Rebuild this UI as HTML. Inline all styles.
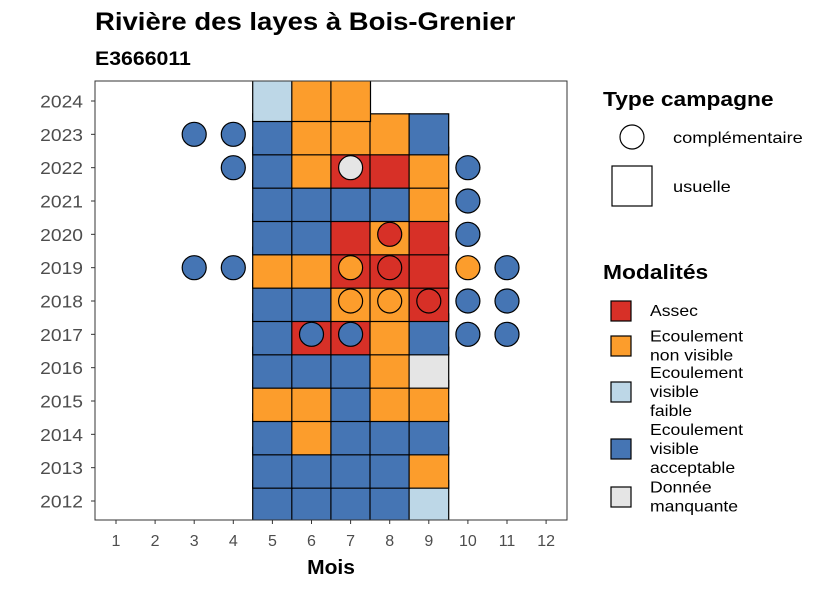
<!DOCTYPE html>
<html><head><meta charset="utf-8"><style>
body{margin:0;background:#fff;font-family:"Liberation Sans",sans-serif}
svg text{font-family:"Liberation Sans",sans-serif}
</style></head><body>
<svg width="826" height="590" xmlns="http://www.w3.org/2000/svg" id="chart">
<text x="95" y="30" font-size="25" font-weight="bold" data-sx="1.1">Rivière des layes à Bois-Grenier</text>
<text x="95" y="65" font-size="19" font-weight="bold" data-sx="1.12">E3666011</text>
<defs><clipPath id="pc"><rect x="95" y="81" width="472" height="439"/></clipPath></defs>
<g id="tiles" clip-path="url(#pc)"></g>
<g id="dots"></g>
<rect x="95" y="81" width="472" height="439" fill="none" stroke="#333" stroke-width="1"/>
<g id="axes"></g>
<text x="331" y="574" font-size="20" font-weight="bold" text-anchor="middle" data-sx="1.05">Mois</text>
<g>
<text x="603" y="106" font-size="20" font-weight="bold" data-sx="1.14">Type campagne</text>
<circle cx="632" cy="137" r="12" fill="#fff" stroke="#000" stroke-width="1.2"/>
<text x="673" y="143" font-size="16" data-sx="1.14">complémentaire</text>
<rect x="612" y="166" width="40" height="40" fill="#fff" stroke="#000" stroke-width="1.2"/>
<text x="673" y="192" font-size="16" data-sx="1.14">usuelle</text>
</g>
<g id="legmod">
<text x="603" y="279" font-size="20" font-weight="bold" data-sx="1.14">Modalités</text>
</g>
<script>
const months=[1,2,3,4,5,6,7,8,9,10,11,12];
const years=[2012,2013,2014,2015,2016,2017,2018,2019,2020,2021,2022,2023,2024];
const colors={A:"#D73027",E:"#FC9D2C",F:"#BDD7E7",V:"#4575B4",M:"#E5E5E5"};
const tileYears=[2012,2013,2014,2015,2016,2017,2018,2019,2020,2021,2022,2023,2024];
const tileVals=["VVVVF","VVVVE","VEVVV","EEVEE","VVVEM","VAAEV","VVEEA","EEAAA","VVAEA","VVVVE","VEAAE","VEEEV","FEE"];
const dotYears=[2023,2023,2022,2022,2022,2021,2020,2020,2019,2019,2019,2019,2019,2019,2018,2018,2018,2018,2018,2017,2017,2017,2017];
const dotMonths=[3,4,4,7,10,10,8,10,3,4,7,8,10,11,7,8,9,10,11,6,7,10,11];
const dotVals=["V","V","V","M","V","V","A","V","V","V","E","A","E","V","E","E","A","V","V","V","V","V","V"];
const X=m=>116+(m-1)*39.1, Y=y=>501-(y-2012)*(400/12);
const NS="http://www.w3.org/2000/svg";
const tg=document.getElementById('tiles'),dg=document.getElementById('dots'),ag=document.getElementById('axes');
tileYears.forEach((yr,i)=>{[...tileVals[i]].forEach((c,j)=>{
 const r=document.createElementNS(NS,'rect');
 r.setAttribute('x',X(5+j)-19.7);r.setAttribute('y',Y(yr)-20.5);r.setAttribute('width',39.6);r.setAttribute('height',41);
 r.setAttribute('fill',colors[c]);r.setAttribute('stroke','#000');r.setAttribute('stroke-width','1.2');
 
 
 tg.appendChild(r);});});
dotYears.forEach((yr,i)=>{
 const c=document.createElementNS(NS,'circle');
 c.setAttribute('cx',X(dotMonths[i]));c.setAttribute('cy',Y(yr));c.setAttribute('r',12);
 c.setAttribute('fill',colors[dotVals[i]]);c.setAttribute('stroke','#000');c.setAttribute('stroke-width','1.2');
 
 
 dg.appendChild(c);});
months.forEach(m=>{
 const l=document.createElementNS(NS,'line');l.setAttribute('x1',X(m));l.setAttribute('x2',X(m));l.setAttribute('y1',520);l.setAttribute('y2',524);l.setAttribute('stroke','#333');ag.appendChild(l);
 const t=document.createElementNS(NS,'text');t.setAttribute('x',X(m));t.setAttribute('y',546);t.setAttribute('font-size','16');t.setAttribute('fill','#4d4d4d');t.setAttribute('text-anchor','middle');t.textContent=m;
 
 
 ag.appendChild(t);});
years.forEach(y=>{
 const l=document.createElementNS(NS,'line');l.setAttribute('x1',91);l.setAttribute('x2',95);l.setAttribute('y1',Y(y));l.setAttribute('y2',Y(y));l.setAttribute('stroke','#333');ag.appendChild(l);
 const t=document.createElementNS(NS,'text');t.setAttribute('x',83);t.setAttribute('y',Y(y)+6.5);t.setAttribute('font-size','17.5');t.setAttribute('fill','#4d4d4d');t.setAttribute('text-anchor','end');t.textContent=y;
 t.setAttribute('data-sx','1.1');
 
 
 ag.appendChild(t);});
const legKeys=["A","E","F","V","M"];
const legLabels=[["Assec"],["Ecoulement","non visible"],["Ecoulement","visible","faible"],["Ecoulement","visible","acceptable"],["Donnée","manquante"]];
const legY=[311,346,392,449,497];
const lg=document.getElementById('legmod');
legKeys.forEach((k,i)=>{
 const r=document.createElementNS(NS,'rect');r.setAttribute('x',611);r.setAttribute('y',legY[i]-10);r.setAttribute('width',20);r.setAttribute('height',20);r.setAttribute('fill',colors[k]);r.setAttribute('stroke','#000');r.setAttribute('stroke-width','1.2');
 
 
 lg.appendChild(r);
 const n=legLabels[i].length;
 legLabels[i].forEach((s,j)=>{const t=document.createElementNS(NS,'text');t.setAttribute('x',650);t.setAttribute('y',legY[i]+5+(j-(n-1)/2)*19);t.setAttribute('font-size','16');t.textContent=s;
 t.setAttribute('data-sx','1.1');
 
 
 lg.appendChild(t);});
});
document.querySelectorAll('text[data-sx]').forEach(t=>{
 const w=t.getComputedTextLength();
 t.setAttribute('textLength',(w*parseFloat(t.getAttribute('data-sx'))).toFixed(1));
 t.setAttribute('lengthAdjust','spacingAndGlyphs');
});
</script>
</svg>
</body></html>
